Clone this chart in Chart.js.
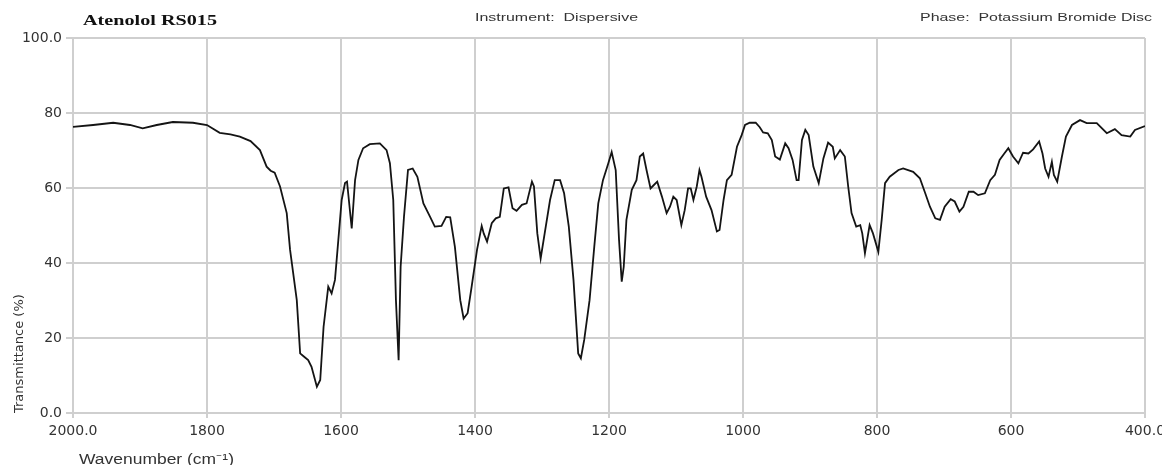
<!DOCTYPE html>
<html>
<head>
<meta charset="utf-8">
<script src="https://cdn.jsdelivr.net/npm/chart.js@4.4.1/dist/chart.umd.min.js"></script>
<style>
  html, body { margin: 0; padding: 0; background: #fff; }
  #wrap { position: relative; width: 1162px; height: 465px; overflow: hidden; }
  canvas { position: absolute; left: 0; top: 0; }
  .hdr { position: absolute; white-space: pre; transform-origin: 0 0; line-height: 1; }
  #t1 { left: 83px; top: 12px; font: bold 15px "Liberation Serif", "Times New Roman", serif; color: #111; }
  #t2 { left: 475px; top: 11px; font: 11px "Liberation Sans", Arial, sans-serif; color: #333; }
  #t3 { left: 920px; top: 11px; font: 11px "Liberation Sans", Arial, sans-serif; color: #333; }
  #xt { left: 79px; top: 449px; font: 14px "Liberation Sans", Arial, sans-serif; color: #333; }
</style>
</head>
<body>
<div id="wrap">
  <canvas id="c" width="1162" height="465"></canvas>
  <div class="hdr" id="t1" data-w="134">Atenolol RS015</div>
  <div class="hdr" id="t2" data-w="163">Instrument:  Dispersive</div>
  <div class="hdr" id="t3" data-w="232">Phase:  Potassium Bromide Disc</div>
  <div class="hdr" id="xt" data-w="155">Wavenumber (cm⁻¹)</div>
</div>
<script>
// ---- Data ----
const wavenumbers = [
  2000,1970,1940,1915,1896,1875,1851,1821,1800,1781,1765,1751,1735,1721,1711,1705,1699,1691,1681,1676,
  1666,1661,1655,1649,1644,1636,1631,1626,1619,1614,1609,1604,1599,1594,1591,1584,1579,1574,1567,1557,
  1542,1532,1527,1522,1518,1514,1511,1506,1500,1493,1486,1477,1467,1460,1450,1443,1437,1430,1422,1417,
  1411,1405,1397,1390,1387,1382,1375,1369,1363,1357,1350,1344,1338,1330,1323,1315,1312,1307,1302,1296,
  1288,1281,1273,1267,1260,1253,1246,1242,1237,1229,1222,1216,1209,1201,1196,1190,1185,1181,1178,1174,
  1166,1159,1154,1149,1144,1138,1133,1128,1121,1114,1109,1104,1099,1092,1087,1082,1078,1074,1069,1065,
  1062,1055,1047,1039,1035,1029,1024,1017,1009,1002,997,990,981,975,970,963,957,952,945,937,
  932,926,920,917,912,907,902,895,887,880,873,866,863,855,848,843,838,831,825,822,
  818,811,806,798,793,788,781,768,761,746,736,728,721,713,706,699,690,684,677,671,
  663,656,649,639,631,624,617,610,604,597,589,582,574,567,558,553,549,544,539,536,
  531,524,518,509,497,487,472,457,445,435,422,415,400
];
const transmittance = [
  76.3,76.8,77.4,76.8,75.9,76.8,77.6,77.4,76.8,74.7,74.3,73.7,72.5,70.1,65.7,64.6,64.1,60.4,53.3,43.5,
  30.1,15.9,15.0,14.1,12.3,7.0,8.8,23.0,33.7,31.9,35.5,46.1,56.8,61.3,61.7,49.2,62.1,67.5,70.6,71.7,
  71.9,70.1,66.6,56.8,30.1,14.1,39.0,52.3,64.8,65.2,63.0,55.9,52.3,49.7,49.9,52.3,52.2,44.3,30.1,25.2,
  26.6,33.7,43.5,49.9,47.9,45.7,50.6,51.9,52.3,59.9,60.2,54.6,53.9,55.5,55.9,61.7,60.4,47.9,41.2,47.9,
  56.8,62.1,62.1,58.6,49.7,35.5,15.9,14.6,19.5,30.1,44.3,55.9,62.1,66.6,69.6,64.8,46.1,35.0,39.0,51.5,
  59.5,62.1,68.4,69.2,64.8,59.9,60.8,61.7,57.7,53.3,55.0,57.7,56.8,50.1,54.1,59.9,59.9,56.8,60.4,64.8,
  63.0,57.7,54.1,48.4,48.8,56.8,62.1,63.5,71.0,74.1,76.8,77.4,77.4,76.2,74.8,74.6,72.8,68.4,67.6,71.9,
  70.6,67.5,62.1,62.1,72.8,75.5,74.1,65.7,61.3,67.9,72.1,71.0,67.9,70.1,68.4,60.4,53.3,49.7,50.1,47.9,
  42.6,50.1,47.9,43.0,51.5,61.3,63.0,64.8,65.2,64.3,62.6,58.6,55.0,51.9,51.5,55.0,57.0,56.4,53.7,55.0,
  59.0,59.0,58.1,58.6,62.1,63.5,67.5,69.2,70.6,68.4,66.6,69.4,69.2,70.3,72.4,69.2,65.2,63.0,67.0,63.5,
  61.7,68.4,73.7,76.8,78.1,77.3,77.3,74.6,75.7,74.1,73.7,75.5,76.5
];
const xTickValues = [2000,1800,1600,1400,1200,1000,800,600,400];
const xTickLabels = ['2000.0','1800','1600','1400','1200','1000','800','600','400.0'];
const yTickValues = [0,20,40,60,80,100];
const yTickLabels = ['0.0','20','40','60','80','100.0'];

// ---- header / axis-title texts: stretch horizontally like the reference ----
document.querySelectorAll('.hdr').forEach(el => {
  const w = el.getBoundingClientRect().width;
  const target = parseFloat(el.dataset.w);
  el.style.transform = 'scaleX(' + (target / w) + ')';
});

const points = wavenumbers.map((w, i) => ({ x: w, y: transmittance[i] }));
const gridColor = '#cfcfcf';
const tickFont = { family: 'DejaVu Sans', size: 14 };

new Chart(document.getElementById('c'), {
  type: 'line',
  data: {
    datasets: [{
      data: points,
      borderColor: '#141414',
      borderWidth: 1.8,
      pointRadius: 0,
      tension: 0,
      fill: false
    }]
  },
  options: {
    responsive: false,
    animation: false,
    events: [],
    layout: { padding: { top: 38, right: 17, left: 0, bottom: 0 } },
    plugins: { legend: { display: false }, tooltip: { enabled: false } },
    scales: {
      x: {
        type: 'linear',
        reverse: true,
        min: 400, max: 2000,
        afterBuildTicks: s => { s.ticks = xTickValues.map(v => ({ value: v })); },
        afterFit: s => { s.height = 52; s.paddingLeft = 0; s.paddingRight = 0; },
        ticks: {
          autoSkip: false, maxRotation: 0, padding: 5, color: '#333', font: tickFont,
          callback: v => { const i = xTickValues.indexOf(v); return i >= 0 ? xTickLabels[i] : ''; }
        },
        grid: { color: gridColor, lineWidth: 2, tickLength: 5, tickColor: gridColor, drawTicks: true },
        border: { color: gridColor, width: 2 },
        title: { display: false }
      },
      y: {
        min: 0, max: 100,
        afterBuildTicks: s => { s.ticks = yTickValues.map(v => ({ value: v })); },
        afterFit: s => { s.width = 73; },
        ticks: {
          padding: 4, color: '#333', font: tickFont,
          callback: v => { const i = yTickValues.indexOf(v); return i >= 0 ? yTickLabels[i] : ''; }
        },
        grid: { color: gridColor, lineWidth: 2, tickLength: 7, tickColor: gridColor, drawTicks: true },
        border: { color: gridColor, width: 2 },
        title: {
          display: true, text: 'Transmittance (%)', align: 'start', color: '#333',
          font: { family: 'DejaVu Sans', size: 13, lineHeight: 1 }, padding: { top: 13, bottom: 0 }
        }
      }
    }
  }
});
</script>
</body>
</html>
